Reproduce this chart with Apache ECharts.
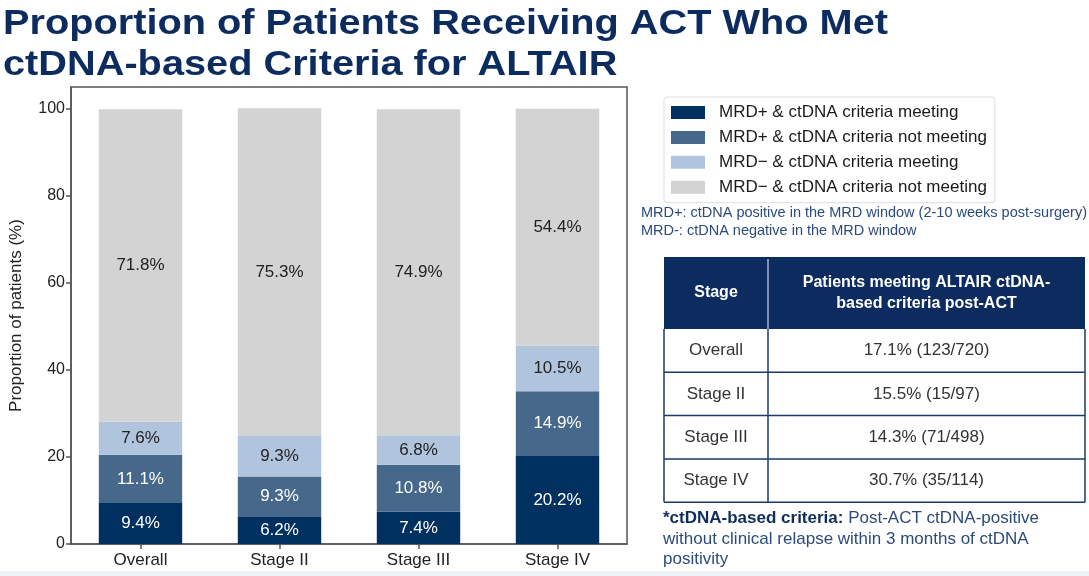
<!DOCTYPE html>
<html>
<head>
<meta charset="utf-8">
<script src="https://cdn.jsdelivr.net/npm/echarts@6/dist/echarts.min.js"></script>
<style>
html,body{margin:0;padding:0;background:#fff;}
#main{width:1089px;height:576px;}
</style>
</head>
<body>
<div id="main"></div>
<script>
// ---- data ----
const titleLines = ['Proportion of Patients Receiving ACT Who Met', 'ctDNA-based Criteria for ALTAIR'];
const categories = ['Overall', 'Stage II', 'Stage III', 'Stage IV'];
const seriesNames = [
  'MRD+ & ctDNA criteria meeting',
  'MRD+ & ctDNA criteria not meeting',
  'MRD\u2212 & ctDNA criteria meeting',
  'MRD\u2212 & ctDNA criteria not meeting'
];
const mrdPosMeeting = [9.4, 6.2, 7.4, 20.2];
const mrdPosNotMeeting = [11.1, 9.3, 10.8, 14.9];
const mrdNegMeeting = [7.6, 9.3, 6.8, 10.5];
const mrdNegNotMeeting = [71.8, 75.3, 74.9, 54.4];
const yTicks = [0, 20, 40, 60, 80, 100];
const yAxisName = 'Proportion of patients (%)';
const notes = [
  'MRD+: ctDNA positive in the MRD window (2-10 weeks post-surgery)',
  'MRD-: ctDNA negative in the MRD window'
];
const tableHeader = ['Stage', 'Patients meeting ALTAIR ctDNA-\nbased criteria post-ACT'];
const tableStages = ['Overall', 'Stage II', 'Stage III', 'Stage IV'];
const tableValues = ['17.1% (123/720)', '15.5% (15/97)', '14.3% (71/498)', '30.7% (35/114)'];
const footBold = '*ctDNA-based criteria:';
const footLines = [' Post-ACT ctDNA-positive', 'without clinical relapse within 3 months of ctDNA', 'positivity'];

// ---- styles ----
const colors = ['#00305f', '#46698b', '#b0c4de', '#d3d3d3'];
const labelColors = ['#ffffff', '#ffffff', '#222222', '#222222'];
const navy = '#0c2b5e';
const noteBlue = '#2c4a7c';
const seriesData = [mrdPosMeeting, mrdPosNotMeeting, mrdNegMeeting, mrdNegNotMeeting];

const chart = echarts.init(document.getElementById('main'), null, {renderer: 'canvas'});

const graphics = [];
// title
titleLines.forEach((t, i) => {
  graphics.push({
    type: 'text', x: 3, y: [24, 65][i], scaleX: 1.135,
    style: {text: t, font: 'bold 35px "Liberation Sans", Arial, sans-serif', fill: navy, textVerticalAlign: 'middle'}
  });
});
// notes
notes.forEach((t, i) => {
  graphics.push({
    type: 'text', x: 641, y: [213, 231][i],
    style: {text: t, font: '14.5px "Liberation Sans", Arial, sans-serif', fill: noteBlue, textVerticalAlign: 'middle'}
  });
});
// table
const tX0 = 664, tX1 = 1085, tXm = 768, tY0 = 257, tYh = 329, rowH = 43.3;
graphics.push({type: 'rect', shape: {x: tX0, y: tY0, width: tX1 - tX0, height: tYh - tY0}, style: {fill: navy}});
graphics.push({type: 'line', shape: {x1: tXm, y1: tY0 + 2, x2: tXm, y2: tYh}, style: {stroke: '#c9d3e3', lineWidth: 1.2}});
graphics.push({
  type: 'text', x: (tX0 + tXm) / 2, y: 293,
  style: {text: tableHeader[0], font: 'bold 16px "Liberation Sans", Arial, sans-serif', fill: '#fff', textAlign: 'center', textVerticalAlign: 'middle'}
});
graphics.push({
  type: 'text', x: (tXm + tX1) / 2, y: 293.5,
  style: {text: tableHeader[1], font: 'bold 16px "Liberation Sans", Arial, sans-serif', lineHeight: 21, fill: '#fff', textAlign: 'center', textVerticalAlign: 'middle'}
});
const tYEnd = tYh + rowH * tableStages.length;
tableStages.forEach((s, i) => {
  const cy = tYh + rowH * (i + 0.5);
  graphics.push({
    type: 'text', x: (tX0 + tXm) / 2, y: cy,
    style: {text: s, font: '17px "Liberation Sans", Arial, sans-serif', fill: '#333', textAlign: 'center', textVerticalAlign: 'middle'}
  });
  graphics.push({
    type: 'text', x: (tXm + tX1) / 2, y: cy,
    style: {text: tableValues[i], font: '17px "Liberation Sans", Arial, sans-serif', fill: '#333', textAlign: 'center', textVerticalAlign: 'middle'}
  });
  graphics.push({type: 'line', shape: {x1: tX0, y1: tYh + rowH * (i + 1), x2: tX1, y2: tYh + rowH * (i + 1)}, style: {stroke: '#1b3a6b', lineWidth: 1.5}});
});
graphics.push({type: 'line', shape: {x1: tX0, y1: tYh, x2: tX0, y2: tYEnd}, style: {stroke: '#1b3a6b', lineWidth: 1.5}});
graphics.push({type: 'line', shape: {x1: tX1, y1: tYh, x2: tX1, y2: tYEnd}, style: {stroke: '#1b3a6b', lineWidth: 1.5}});
graphics.push({type: 'line', shape: {x1: tXm, y1: tYh, x2: tXm, y2: tYEnd}, style: {stroke: '#1b3a6b', lineWidth: 1.5}});
// footnote
graphics.push({
  type: 'text', x: 663, y: 518,
  style: {
    text: '{b|' + footBold + '}{n|' + footLines[0] + '}',
    rich: {
      b: {font: 'bold 17px "Liberation Sans", Arial, sans-serif', fill: '#0f2d5c'},
      n: {font: '17px "Liberation Sans", Arial, sans-serif', fill: noteBlue}
    },
    textVerticalAlign: 'middle'
  }
});
footLines.slice(1).forEach((t, i) => {
  graphics.push({
    type: 'text', x: 663, y: [539, 559][i],
    style: {text: t, font: '17px "Liberation Sans", Arial, sans-serif', fill: noteBlue, textVerticalAlign: 'middle'}
  });
});
// bottom strip
graphics.push({type: 'rect', z: -1, shape: {x: 0, y: 571, width: 1089, height: 5}, style: {fill: '#eef1f5'}});

const option = {
  animation: false,
  backgroundColor: '#ffffff',
  textStyle: {fontFamily: '"Liberation Sans", Arial, sans-serif'},
  grid: {left: 69, right: 462, top: 87, bottom: 32, show: true, borderColor: '#555', borderWidth: 1.5, backgroundColor: 'transparent'},
  legend: {
    orient: 'vertical', left: 664, top: 97,
    itemWidth: 34, itemHeight: 13, itemGap: 7.9,
    padding: [7, 8, 7, 7],
    borderColor: '#dddddd', borderWidth: 1, borderRadius: 3,
    icon: 'rect',
    textStyle: {fontSize: 17, color: '#1a1a1a', lineHeight: 13, padding: [0, 0, 0, 9]},
    data: seriesNames
  },
  xAxis: {
    type: 'category', data: categories,
    axisLine: {show: true, lineStyle: {color: '#555', width: 1.5}},
    axisTick: {show: true, alignWithLabel: true, length: 5, lineStyle: {color: '#555', width: 1.5}},
    axisLabel: {fontSize: 17, color: '#222', margin: 8}
  },
  yAxis: {
    type: 'value', min: 0, max: 105, interval: 20,
    name: yAxisName, nameLocation: 'middle', nameGap: 46,
    nameTextStyle: {fontSize: 17, color: '#222'},
    axisLine: {show: true, lineStyle: {color: '#555', width: 1.5}},
    axisTick: {show: true, length: 5, lineStyle: {color: '#555', width: 1.5}, customValues: yTicks},
    axisLabel: {fontSize: 16, color: '#222', margin: 6, customValues: yTicks},
    splitLine: {show: false}
  },
  series: seriesNames.map((name, i) => ({
    name: name, type: 'bar', stack: 'total', barWidth: '60%',
    itemStyle: {color: colors[i]},
    label: {
      show: true, position: 'inside', formatter: '{c}%',
      color: labelColors[i], fontSize: 17,
      fontFamily: '"Liberation Sans Narrow", "Arial Narrow", "Liberation Sans", Arial, sans-serif'
    },
    data: seriesData[i]
  })),
  graphic: graphics
};
chart.setOption(option);
</script>
</body>
</html>
